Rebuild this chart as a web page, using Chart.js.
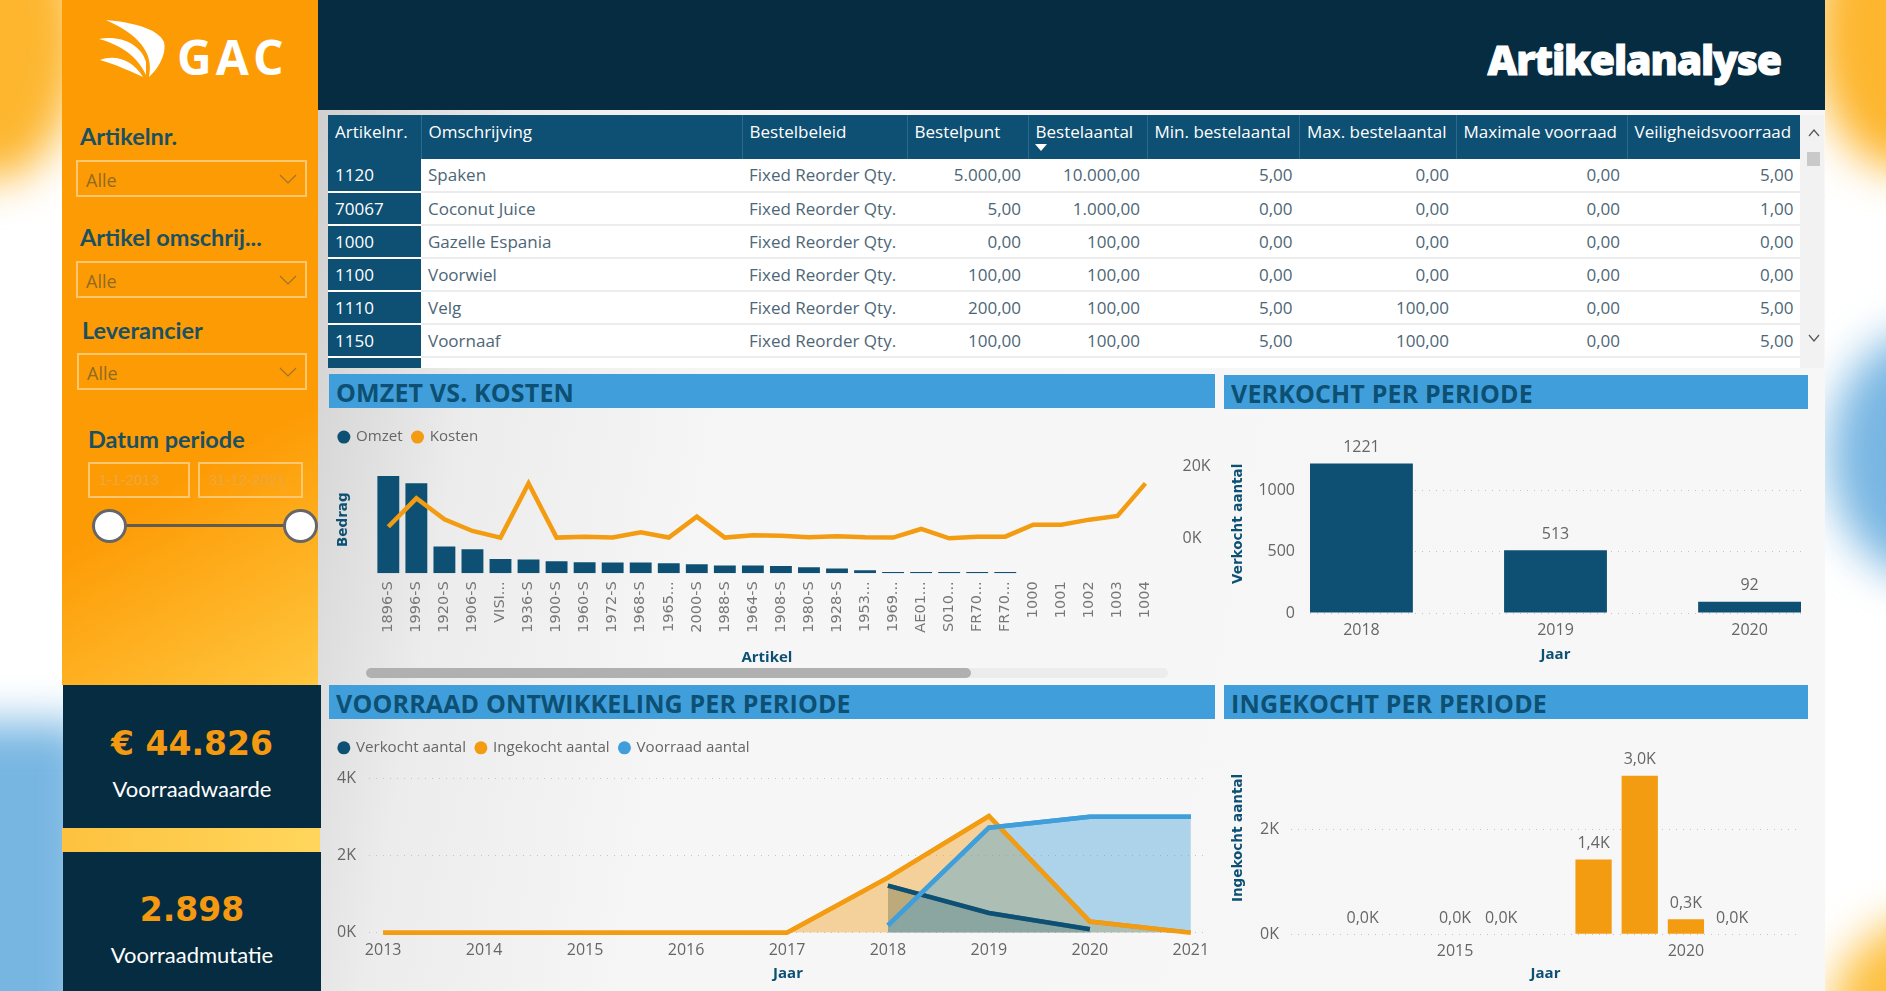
<!doctype html>
<html lang="nl">
<head>
<meta charset="utf-8">
<title>Artikelanalyse</title>
<script src="https://cdn.jsdelivr.net/npm/chart.js@4/dist/chart.umd.min.js"></script>
<style>
  html, body { margin: 0; padding: 0; background: #fff; }
  #page { position: relative; width: 1886px; height: 991px; overflow: hidden; background: #fff; font-family: 'Open Sans', sans-serif; }
  #page > * { position: absolute; }
  .blob { border-radius: 50%; filter: blur(22px); }
  #panel { left: 318px; top: 110px; width: 1507px; height: 881px; background: linear-gradient(100deg, #cfcfcf 0, #ececec 12%, #f6f6f6 28%, #f7f7f7 100%); }
  #sidebar { left: 62px; top: 0; width: 256px; height: 685px; background: linear-gradient(150deg, #fd9b05 0, #fd9b05 66%, #ffc63e 100%); }
  #header { left: 318px; top: 0; width: 1507px; height: 110px; background: #062c41; }
  #titel { left: 1400px; top: 35px; width: 381px; text-align: right; color: #fff; font-size: 41px; font-weight: 800; line-height: 48px; letter-spacing: -1.2px; -webkit-text-stroke: 1px #fff; }
  #gac { left: 177px; top: 24px; color: #fff; font-size: 48px; font-weight: 700; letter-spacing: 4px; line-height: 66px; }
  .slicer { font-family: Lato, sans-serif; font-weight: 700; font-size: 23.5px; color: #1a5061; line-height: 28px; white-space: nowrap; }
  .keuze { border: 2px solid #ffc870; box-sizing: border-box; color: #8f6a24; font-size: 18px; line-height: 36px; padding-left: 8px; }
  .keuze svg { position: absolute; right: 8px; top: 12px; }
  .datum { border: 2px solid #ffc870; box-sizing: border-box; color: #eba83f; font-family: 'Liberation Sans', sans-serif; font-size: 15px; line-height: 32px; padding-left: 9px; }
  #slider { left: 109px; top: 524px; width: 191px; height: 3px; background: #615b50; }
  .knop { width: 35px; height: 34px; box-sizing: border-box; border-radius: 50%; background: #fff; border: 3px solid #666; top: 509px; }
  .kaart { left: 63px; width: 258px; background: #062c41; }
  #strook { left: 62px; top: 828px; width: 258px; height: 24px; background: linear-gradient(90deg, #fdc23f, #ffd65c); }
  .kpi { left: 63px; width: 258px; text-align: center; color: #f59a10; font-family: 'DejaVu Sans', sans-serif; font-weight: 700; font-size: 33px; line-height: 44px; }
  .kpilabel { left: 63px; width: 258px; text-align: center; color: #fff; font-family: Lato, sans-serif; font-size: 22px; line-height: 28px; }
  #tabelvak { left: 328px; top: 115px; width: 1472px; height: 253px; overflow: hidden; background: #fff; }
  table { border-collapse: collapse; table-layout: fixed; width: 1472px; font-size: 17px; color: #4d6676; }
  th { background: #0d5073; color: #fff; font-weight: 400; height: 44px; padding: 0 4px 0 7px; box-sizing: border-box; text-align: left; vertical-align: top; line-height: 33px; border-right: 1px solid #2a6a8c; white-space: nowrap; overflow: hidden; }
  th:last-child { border-right: 0; }
  td { height: 33px; padding: 0 7px; box-sizing: border-box; border-bottom: 2px solid #ececec; text-align: right; white-space: nowrap; line-height: 30px; }
  td:nth-child(1) { background: #0d5073; color: #fff; text-align: left; border-bottom: 2px solid #fff; }
  td:nth-child(2), td:nth-child(3) { text-align: left; }
  #pijl { left: 1035px; top: 144px; width: 0; height: 0; border-left: 6px solid transparent; border-right: 6px solid transparent; border-top: 7px solid #fff; }
  #schuifbalk { left: 1800px; top: 115px; width: 24px; height: 253px; background: #f2f2f2; }
  #schuifduim { left: 1807px; top: 152px; width: 13px; height: 14px; background: #c9c9c9; }
  .kop { background: #409fdb; color: #0d5073; font-weight: 700; font-size: 25px; line-height: 37px; padding-left: 7px; box-sizing: border-box; white-space: nowrap; letter-spacing: .15px; }
  #spoor { left: 366px; top: 668px; width: 802px; height: 10px; background: #ececec; border-radius: 5px; }
  #duim { left: 366px; top: 668px; width: 605px; height: 10px; background: #b0b0b0; border-radius: 5px; }
  canvas { display: block; }
</style>
</head>
<body>
<div id="page">
  <div class="blob" style="left:-90px;top:-110px;width:170px;height:290px;background:#fdb62e"></div>
  <div class="blob" style="left:1815px;top:-110px;width:170px;height:280px;background:#fdb62e"></div>
  <div class="blob" style="left:1830px;top:330px;width:200px;height:250px;background:#78b6e2"></div>
  <div class="blob" style="left:-60px;top:722px;width:150px;height:340px;background:#78b6e2;border-radius:10px"></div>
  <div class="blob" style="left:1830px;top:915px;width:220px;height:210px;background:#fdc040"></div>

  <div id="panel"></div>
  <div id="sidebar"></div>
  <div id="header"></div>
  <div id="titel">Artikelanalyse</div>

  <svg style="left:95px;top:16px" width="75" height="66" viewBox="95 16 75 66">
    <path fill="#fff" d="M106 20 C130 22 158 28 164 42 C167 55 157 70 149 77 C153 58 146 38 106 20 Z"/>
    <path fill="#fff" d="M99 39 C120 35 141 44 146 62 L146 75 C138 58 124 46 99 39 Z"/>
    <path fill="#fff" d="M100 60 C115 54 133 60 143 77 C132 72 115 64 100 60 Z"/>
  </svg>
  <div id="gac">GAC</div>

  <div class="slicer" style="left:80px;top:122px">Artikelnr.</div>
  <div class="keuze" style="left:76px;top:160px;width:231px;height:37px">Alle<svg width="18" height="10"><polyline points="1,1 9,9 17,1" fill="none" stroke="#9a7430" stroke-width="1.2"/></svg></div>
  <div class="slicer" style="left:80px;top:223px">Artikel omschrij...</div>
  <div class="keuze" style="left:76px;top:261px;width:231px;height:37px">Alle<svg width="18" height="10"><polyline points="1,1 9,9 17,1" fill="none" stroke="#9a7430" stroke-width="1.2"/></svg></div>
  <div class="slicer" style="left:82px;top:316px">Leverancier</div>
  <div class="keuze" style="left:77px;top:353px;width:230px;height:37px">Alle<svg width="18" height="10"><polyline points="1,1 9,9 17,1" fill="none" stroke="#9a7430" stroke-width="1.2"/></svg></div>
  <div class="slicer" style="left:88px;top:425px">Datum periode</div>
  <div class="datum" style="left:88px;top:462px;width:102px;height:36px">1-1-2013</div>
  <div class="datum" style="left:198px;top:462px;width:105px;height:36px">31-12-2021</div>
  <div id="slider"></div>
  <div class="knop" style="left:92px"></div>
  <div class="knop" style="left:283px"></div>

  <div class="kaart" style="top:685px;height:143px"></div>
  <div id="strook"></div>
  <div class="kaart" style="top:852px;height:139px"></div>
  <div class="kpi" style="top:722px">€ 44.826</div>
  <div class="kpilabel" style="top:775px">Voorraadwaarde</div>
  <div class="kpi" style="top:888px">2.898</div>
  <div class="kpilabel" style="top:941px">Voorraadmutatie</div>

  <div id="tabelvak"><table id="tabel"></table></div>
  <div id="pijl"></div>
  <div id="schuifbalk"></div>
  <div id="schuifduim"></div>
  <svg style="left:1808px;top:129px" width="12" height="8"><polyline points="1,7 6,1 11,7" fill="none" stroke="#555" stroke-width="1.2"/></svg>
  <svg style="left:1808px;top:334px" width="12" height="8"><polyline points="1,1 6,7 11,1" fill="none" stroke="#555" stroke-width="1.2"/></svg>

  <div class="kop" style="left:329px;top:374px;width:886px;height:34px">OMZET VS. KOSTEN</div>
  <div class="kop" style="left:1224px;top:375px;width:584px;height:34px">VERKOCHT PER PERIODE</div>
  <div class="kop" style="left:329px;top:685px;width:886px;height:34px">VOORRAAD ONTWIKKELING PER PERIODE</div>
  <div class="kop" style="left:1224px;top:685px;width:584px;height:34px">INGEKOCHT PER PERIODE</div>

  <canvas id="omzetKosten" width="886" height="263" style="left:329px;top:409px"></canvas>
  <div id="spoor"></div>
  <div id="duim"></div>
  <canvas id="verkocht" width="592" height="262" style="left:1224px;top:410px"></canvas>
  <canvas id="voorraad" width="887" height="271" style="left:329px;top:720px"></canvas>
  <canvas id="ingekocht" width="592" height="271" style="left:1224px;top:720px"></canvas>
</div>

<script type="text/javascript">
// tabel
var kolommen = ['Artikelnr.', 'Omschrijving', 'Bestelbeleid', 'Bestelpunt', 'Bestelaantal', 'Min. bestelaantal', 'Max. bestelaantal', 'Maximale voorraad', 'Veiligheidsvoorraad'];
var kolomBreedtes = [93, 321, 165, 121, 119, 152.5, 156.5, 171, 173.5];
var rijen = [
  ['1120', 'Spaken', 'Fixed Reorder Qty.', '5.000,00', '10.000,00', '5,00', '0,00', '0,00', '5,00'],
  ['70067', 'Coconut Juice', 'Fixed Reorder Qty.', '5,00', '1.000,00', '0,00', '0,00', '0,00', '1,00'],
  ['1000', 'Gazelle Espania', 'Fixed Reorder Qty.', '0,00', '100,00', '0,00', '0,00', '0,00', '0,00'],
  ['1100', 'Voorwiel', 'Fixed Reorder Qty.', '100,00', '100,00', '0,00', '0,00', '0,00', '0,00'],
  ['1110', 'Velg', 'Fixed Reorder Qty.', '200,00', '100,00', '5,00', '100,00', '0,00', '5,00'],
  ['1150', 'Voornaaf', 'Fixed Reorder Qty.', '100,00', '100,00', '5,00', '100,00', '0,00', '5,00'],
  ['', '', 'Fixed Reorder Qty.', '100,00', '100,00', '5,00', '100,00', '0,00', '5,00']
];

// omzet vs. kosten
var artikelen = ['1896-S', '1996-S', '1920-S', '1906-S', 'VISI...', '1936-S', '1900-S', '1960-S', '1972-S', '1968-S', '1965...', '2000-S', '1988-S', '1964-S', '1908-S', '1980-S', '1928-S', '1953...', '1969...', 'AE01...', 'S010...', 'FR70...', 'FR70...', '1000', '1001', '1002', '1003', '1004'];
var omzet = [48700, 45000, 13400, 12000, 7150, 6850, 6000, 5500, 5350, 5350, 5000, 4500, 3850, 3850, 3650, 3000, 2350, 1500, 600, 600, 600, 600, 600, null, null, null, null, null];
var kosten = [3200, 11060, 5250, 2030, 200, 15200, 200, 460, 200, 1660, 200, 6000, 200, 830, 740, 280, 550, 280, 200, 2580, 0, 460, 460, 3780, 3780, 5160, 6180, 15200];

// verkocht per periode
var verkochtJaren = [2018, 2019, 2020];
var verkochtWaarden = [1221, 513, 92];

// voorraad ontwikkeling
var jaren = [2013, 2014, 2015, 2016, 2017, 2018, 2019, 2020, 2021];
var verkochtAantal = [null, null, null, null, null, 1221, 513, 92, null];
var ingekochtAantal = [0, 0, 0, 0, 0, 1430, 3030, 290, 0];
var voorraadAantal = [null, null, null, null, null, 190, 2727, 3010, 3010];

// ingekocht per periode
var ingekochtJaren = [2013, 2015, 2016, 2018, 2019, 2020, 2021];
var ingekochtWaarden = [0, 0, 0, 1430, 3030, 290, 0];

var donker = '#0d5073', oranje = '#f39c12', blauw = '#409fdb', grijs = '#666';

document.getElementById('tabel').innerHTML =
  '<colgroup>' + kolomBreedtes.map(function (b) { return '<col style="width:' + b + 'px">'; }).join('') + '</colgroup>' +
  '<tr>' + kolommen.map(function (k) { return '<th>' + k + '</th>'; }).join('') + '</tr>' +
  rijen.map(function (r) { return '<tr>' + r.map(function (c) { return '<td>' + c + '</td>'; }).join('') + '</tr>'; }).join('');

Chart.defaults.font.family = "'Open Sans', sans-serif";
Chart.defaults.font.size = 16;
Chart.defaults.color = grijs;
Chart.defaults.animation = false;
Chart.defaults.responsive = false;
Chart.defaults.devicePixelRatio = 1;

// legenda krijgt een vaste hoogte zodat het plotvlak precies op zijn plek staat
function vasteLegenda(h) {
  return { id: 'vasteLegenda', beforeLayout: function (chart) {
    var fit = chart.legend.fit;
    chart.legend.fit = function () { fit.call(this); this.height = h; };
  } };
}

// vullingen liggen onder, de lijnen zelf nog een keer puur eroverheen
var lijnenBovenop = { id: 'lijnenBovenop', afterDatasetsDraw: function (chart) {
  chart.data.datasets.forEach(function (ds, i) {
    chart.getDatasetMeta(i).dataset.draw(chart.ctx);
  });
} };

function waardeLabels(tekst) {
  return { id: 'waardeLabels', afterDatasetsDraw: function (chart) {
    var ctx = chart.ctx;
    var ds = chart.data.datasets[0];
    ctx.save();
    ctx.font = "16px 'Open Sans', sans-serif";
    ctx.fillStyle = grijs;
    ctx.textAlign = 'center';
    ctx.textBaseline = 'bottom';
    chart.getDatasetMeta(0).data.forEach(function (el, i) {
      ctx.fillText(tekst(ds.data[i].y), el.x, el.y - 8);
    });
    ctx.restore();
  } };
}

function vasteTicks(waarden) {
  return function (scale) { scale.ticks = waarden.map(function (v) { return { value: v }; }); };
}
function kilo(v) { return (v / 1000) + 'K'; }
function punten(xs, ys) { return xs.map(function (x, i) { return { x: x, y: ys[i] }; }); }
function legendaOpties() {
  return { position: 'top', align: 'start', labels: { usePointStyle: true, pointStyle: 'circle', boxWidth: 9.2, boxHeight: 9.2, padding: 10.25, color: grijs, font: { size: 15.1 },
    sort: function (a, b) { return a.datasetIndex - b.datasetIndex; } } };
}
function asTitel(tekst, onder) {
  return { display: true, text: tekst, color: donker, font: { size: 15, weight: '700' }, padding: { top: 0, bottom: onder } };
}
function yTitel(tekst) {
  return { display: true, text: tekst, color: donker, font: { family: "'DejaVu Sans', sans-serif", size: 13.5, weight: '700' }, padding: { top: 6, bottom: 0 } };
}
function lijn(label, ys, kleur, vulling, volgorde) {
  return { label: label, data: punten(jaren, ys), borderColor: kleur, backgroundColor: vulling, pointBackgroundColor: kleur, pointBorderColor: kleur, pointBorderWidth: 0, fill: 'origin', borderWidth: 4.5, pointRadius: 0, tension: 0, order: volgorde };
}
var stippel = { display: false, dash: [1, 6] };
var stippelGrid = { color: '#c4c4c4', lineWidth: 1, drawTicks: false };

new Chart(document.getElementById('omzetKosten'), {
  data: {
    labels: artikelen,
    datasets: [
      { type: 'bar', label: 'Omzet', data: omzet, backgroundColor: donker, yAxisID: 'y', order: 2, barPercentage: 0.78, categoryPercentage: 1 },
      { type: 'line', label: 'Kosten', data: kosten, borderColor: oranje, backgroundColor: oranje, pointBackgroundColor: oranje, pointBorderColor: oranje, pointBorderWidth: 0, borderWidth: 4.5, pointRadius: 0, tension: 0, yAxisID: 'y1', order: 1 }
    ]
  },
  plugins: [vasteLegenda(46.75)],
  options: {
    layout: { padding: { top: 10.25 } },
    plugins: { legend: legendaOpties(), tooltip: { enabled: false } },
    scales: {
      x: { offset: true, grid: { display: false }, border: { display: false }, title: asTitel('Artikel', 5),
        ticks: { autoSkip: false, minRotation: 90, maxRotation: 90, padding: 0, font: { family: "'DejaVu Sans', sans-serif", size: 14.5 }, color: '#777' },
        afterFit: function (s) { s.height = 98.7; } },
      y: { position: 'left', min: 0, max: 53650, grid: { display: false }, border: { display: false }, ticks: { display: false }, title: yTitel('Bedrag'),
        afterFit: function (s) { s.width = 45.3; } },
      y1: { position: 'right', min: -9680, max: 20000, grid: { display: false }, border: { display: false },
        afterBuildTicks: vasteTicks([0, 20000]), ticks: { padding: 15, callback: kilo },
        afterFit: function (s) { s.width = 55.5; } }
    }
  }
});

new Chart(document.getElementById('verkocht'), {
  type: 'bar',
  data: { datasets: [{ label: 'Verkocht aantal', data: punten(verkochtJaren, verkochtWaarden), backgroundColor: donker, barPercentage: 0.53, categoryPercentage: 1 }] },
  plugins: [waardeLabels(function (v) { return String(v); })],
  options: {
    layout: { padding: { top: 12.4, right: 15 } },
    plugins: { legend: { display: false }, tooltip: { enabled: false } },
    scales: {
      x: { type: 'linear', offset: false, min: 2017.735, max: 2020.265, grid: { display: false }, border: { display: false }, title: asTitel('Jaar', 8),
        afterBuildTicks: vasteTicks(verkochtJaren), ticks: { autoSkip: false, maxRotation: 0, padding: 0, callback: function (v) { return String(v); } },
        afterFit: function (s) { s.height = 59; } },
      y: { min: 0, max: 1458, grid: stippelGrid, border: stippel, title: yTitel('Verkocht aantal'),
        afterBuildTicks: vasteTicks([0, 500, 1000]), ticks: { padding: 15, callback: function (v) { return String(v); } },
        afterFit: function (s) { s.width = 86; } }
    }
  }
});

new Chart(document.getElementById('voorraad'), {
  type: 'line',
  data: { datasets: [
    lijn('Verkocht aantal', verkochtAantal, donker, 'rgba(13,80,115,.4)', 3),
    lijn('Ingekocht aantal', ingekochtAantal, oranje, 'rgba(243,156,18,.4)', 2),
    lijn('Voorraad aantal', voorraadAantal, blauw, 'rgba(64,159,219,.4)', 1)
  ] },
  plugins: [vasteLegenda(48.7), lijnenBovenop],
  options: {
    layout: { padding: { top: 10, right: 9 } },
    plugins: { legend: legendaOpties(), tooltip: { enabled: false } },
    scales: {
      x: { type: 'linear', min: 2012.86, max: 2021.16, grid: { display: false }, border: { display: false }, title: asTitel('Jaar', 8),
        afterBuildTicks: vasteTicks(jaren), ticks: { autoSkip: false, maxRotation: 0, padding: 0, callback: function (v) { return String(v); } },
        afterFit: function (s) { s.height = 58.3; } },
      y: { min: 0, max: 4000, grid: stippelGrid, border: stippel,
        afterBuildTicks: vasteTicks([0, 2000, 4000]), ticks: { padding: 13, callback: kilo },
        afterFit: function (s) { s.width = 40; } }
    }
  }
});

new Chart(document.getElementById('ingekocht'), {
  type: 'bar',
  data: { datasets: [{ label: 'Ingekocht aantal', data: punten(ingekochtJaren, ingekochtWaarden), backgroundColor: oranje, barPercentage: 0.785, categoryPercentage: 1 }] },
  plugins: [waardeLabels(function (v) { return (v / 1000).toFixed(1).replace('.', ',') + 'K'; })],
  options: {
    layout: { padding: { top: 13.7, right: 16 } },
    plugins: { legend: { display: false }, tooltip: { enabled: false } },
    scales: {
      x: { type: 'linear', offset: false, min: 2011.448, max: 2022.47, grid: { display: false }, border: { display: false }, title: asTitel('Jaar', 8),
        afterBuildTicks: vasteTicks([2015, 2020]), ticks: { autoSkip: false, maxRotation: 0, padding: 0, callback: function (v) { return String(v); } },
        afterFit: function (s) { s.height = 56.7; } },
      y: { min: 0, max: 3684, grid: stippelGrid, border: stippel, title: yTitel('Ingekocht aantal'),
        afterBuildTicks: vasteTicks([0, 2000]), ticks: { padding: 12, callback: kilo },
        afterFit: function (s) { s.width = 67; } }
    }
  }
});
</script>
</body>
</html>
